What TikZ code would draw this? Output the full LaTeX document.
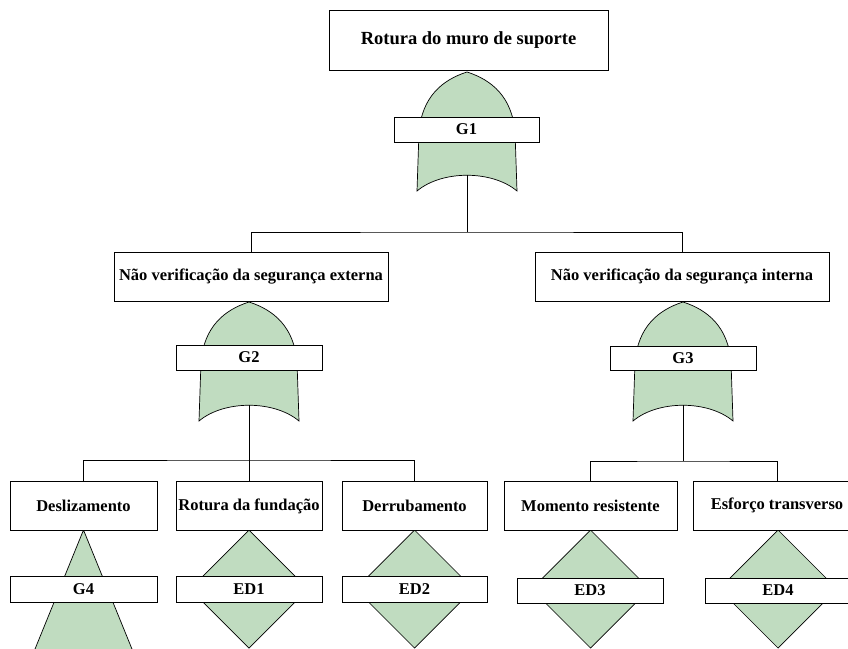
\documentclass[tikz,border=0pt]{standalone}
\usepackage{fontspec}
\setmainfont{Liberation Serif}
\definecolor{gatefill}{RGB}{192,220,192}
\tikzset{
  every picture/.style={x=1pt,y=-1pt},
  evbox/.style={draw=black,line width=0.9pt,fill=white,inner sep=0pt,
    font=\fontsize{16.5}{18}\selectfont\bfseries,align=center},
  titlebox/.style={evbox,font=\fontsize{18.5}{20}\selectfont\bfseries},
  lblbox/.style={evbox,font=\fontsize{16.5}{18}\selectfont\bfseries},
  gatestyle/.style={draw=black,line width=0.7pt,fill=gatefill},
  conn/.style={draw=black,line width=0.9pt},
  orgate/.pic={
    \path[gatestyle] (0,0) .. controls (-25,8) and (-45,25) .. (-48,60)
      -- (-50,119) .. controls (-25,98) and (25,98) .. (50,119)
      -- (48,60) .. controls (45,25) and (25,8) .. (0,0) -- cycle;
    \coordinate (-out) at (0,103);
  },
  diagate/.pic={
    \path[gatestyle] (0,0) -- (-59,59) -- (0,118) -- (59,59) -- cycle;
  },
  trigate/.pic={
    \path[gatestyle] (0,0) -- (-55,135) -- (55,135) -- cycle;
  }
}
\begin{document}
\begin{tikzpicture}
\useasboundingbox (0,0) rectangle (848,648);
\clip (0,0) rectangle (848,648);
\fill[white] (0,0) rectangle (848,648);

% gates (drawn first, label boxes on top)
\pic (g1) at (467,72) {orgate};
\pic (g2) at (249,302) {orgate};
\pic (g3) at (683,302) {orgate};
\pic (g4) at (83.5,530) {trigate};
\pic (ed1) at (249,530) {diagate};
\pic (ed2) at (414.5,530) {diagate};
\pic (ed3) at (590.5,530) {diagate};
\pic (ed4) at (778,530) {diagate};

% top event
\node[titlebox,minimum width=279pt,minimum height=60pt] (top) at (468.5,40) {Rotura do muro de suporte};
\node[lblbox,minimum width=145pt,minimum height=25pt] (G1) at (466.5,129.5) {G1};

% intermediate events
\node[evbox,minimum width=274pt,minimum height=49pt] (ext) at (251,276.5) {Não verificação da segurança externa};
\node[evbox,minimum width=294pt,minimum height=49pt] (int) at (682,276.5) {Não verificação da segurança interna};
\node[lblbox,minimum width=146pt,minimum height=25pt] (G2) at (249,357.5) {G2};
\node[lblbox,minimum width=146pt,minimum height=24pt] (G3) at (683,358) {G3};

% basic events
\node[evbox,minimum width=147pt,minimum height=49pt] (desl) at (83.5,506) {Deslizamento};
\node[evbox,minimum width=146pt,minimum height=49pt] (fund) at (249,506) {Rotura da fundação};
\node[evbox,minimum width=145pt,minimum height=49pt] (derr) at (414.5,506) {Derrubamento};
\node[evbox,minimum width=173pt,minimum height=49pt] (mom) at (590.5,506) {Momento resistente};
\node[evbox,minimum width=168pt,minimum height=49pt] (esf) at (777,505.5) {Esforço transverso};

\node[lblbox,minimum width=147pt,minimum height=26pt] (G4) at (83.5,589) {G4};
\node[lblbox,minimum width=146pt,minimum height=26pt] (ED1) at (249,589) {ED1};
\node[lblbox,minimum width=145pt,minimum height=26pt] (ED2) at (414.5,589) {ED2};
\node[lblbox,minimum width=146pt,minimum height=25pt] (ED3) at (590,590.5) {ED3};
\node[lblbox,minimum width=146pt,minimum height=25pt] (ED4) at (778,590.5) {ED4};

% connectors
\coordinate (j1) at (467,232);
\draw[conn] (g1-out) -- (j1);
\draw[conn] (ext.north) |- (j1) -| (int.north);

\coordinate (j2) at (249,460);
\draw[conn] (g2-out) -- (j2);
\draw[conn] (desl.north) |- (j2) -| (derr.north);
\draw[conn] (j2) -- (fund.north);

\coordinate (j3) at (683,461);
\draw[conn] (g3-out) -- (j3);
\draw[conn] (mom.north) |- (j3) -| (esf.north);
\end{tikzpicture}
\end{document}
